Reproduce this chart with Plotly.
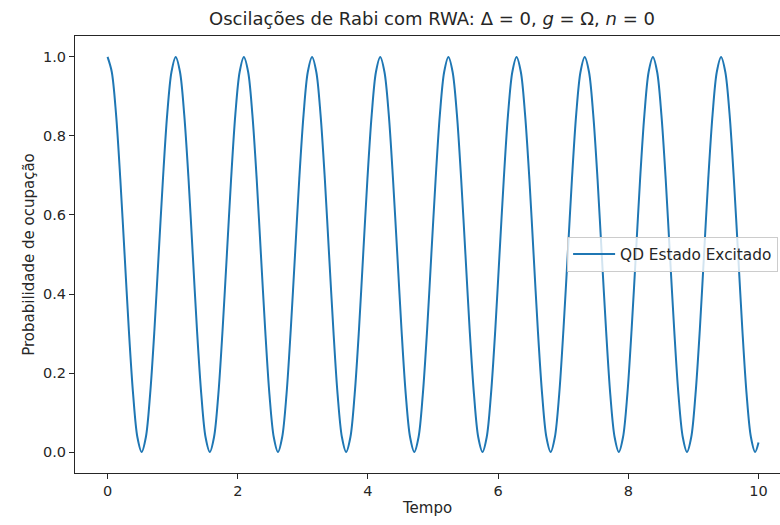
import plotly.graph_objects as go

# Excited-state occupation probability, sampled every 1/16 of an oscillation
tempo = [
    0.000, 0.065, 0.131, 0.196, 0.262, 0.327, 0.393, 0.458, 0.524, 0.589, 0.654, 0.720, 0.785, 0.851, 0.916, 0.982,
    1.047, 1.113, 1.178, 1.244, 1.309, 1.374, 1.440, 1.505, 1.571, 1.636, 1.702, 1.767, 1.833, 1.898, 1.963, 2.029,
    2.094, 2.160, 2.225, 2.291, 2.356, 2.422, 2.487, 2.553, 2.618, 2.683, 2.749, 2.814, 2.880, 2.945, 3.011, 3.076,
    3.142, 3.207, 3.272, 3.338, 3.403, 3.469, 3.534, 3.600, 3.665, 3.731, 3.796, 3.862, 3.927, 3.992, 4.058, 4.123,
    4.189, 4.254, 4.320, 4.385, 4.451, 4.516, 4.581, 4.647, 4.712, 4.778, 4.843, 4.909, 4.974, 5.040, 5.105, 5.171,
    5.236, 5.301, 5.367, 5.432, 5.498, 5.563, 5.629, 5.694, 5.760, 5.825, 5.890, 5.956, 6.021, 6.087, 6.152, 6.218,
    6.283, 6.349, 6.414, 6.480, 6.545, 6.610, 6.676, 6.741, 6.807, 6.872, 6.938, 7.003, 7.069, 7.134, 7.199, 7.265,
    7.330, 7.396, 7.461, 7.527, 7.592, 7.658, 7.723, 7.789, 7.854, 7.919, 7.985, 8.050, 8.116, 8.181, 8.247, 8.312,
    8.378, 8.443, 8.508, 8.574, 8.639, 8.705, 8.770, 8.836, 8.901, 8.967, 9.032, 9.098, 9.163, 9.228, 9.294, 9.359,
    9.425, 9.490, 9.556, 9.621, 9.687, 9.752, 9.817, 9.883, 9.948, 10.000,
]
prob_excitado = [
    1.000, 0.962, 0.854, 0.691, 0.500, 0.309, 0.146, 0.038, 0.000, 0.038, 0.146, 0.309, 0.500, 0.691, 0.854, 0.962,
    1.000, 0.962, 0.854, 0.691, 0.500, 0.309, 0.146, 0.038, 0.000, 0.038, 0.146, 0.309, 0.500, 0.691, 0.854, 0.962,
    1.000, 0.962, 0.854, 0.691, 0.500, 0.309, 0.146, 0.038, 0.000, 0.038, 0.146, 0.309, 0.500, 0.691, 0.854, 0.962,
    1.000, 0.962, 0.854, 0.691, 0.500, 0.309, 0.146, 0.038, 0.000, 0.038, 0.146, 0.309, 0.500, 0.691, 0.854, 0.962,
    1.000, 0.962, 0.854, 0.691, 0.500, 0.309, 0.146, 0.038, 0.000, 0.038, 0.146, 0.309, 0.500, 0.691, 0.854, 0.962,
    1.000, 0.962, 0.854, 0.691, 0.500, 0.309, 0.146, 0.038, 0.000, 0.038, 0.146, 0.309, 0.500, 0.691, 0.854, 0.962,
    1.000, 0.962, 0.854, 0.691, 0.500, 0.309, 0.146, 0.038, 0.000, 0.038, 0.146, 0.309, 0.500, 0.691, 0.854, 0.962,
    1.000, 0.962, 0.854, 0.691, 0.500, 0.309, 0.146, 0.038, 0.000, 0.038, 0.146, 0.309, 0.500, 0.691, 0.854, 0.962,
    1.000, 0.962, 0.854, 0.691, 0.500, 0.309, 0.146, 0.038, 0.000, 0.038, 0.146, 0.309, 0.500, 0.691, 0.854, 0.962,
    1.000, 0.962, 0.854, 0.691, 0.500, 0.309, 0.146, 0.038, 0.000, 0.024,
]
x_ticks = [0, 2, 4, 6, 8, 10]
y_ticks = [0.0, 0.2, 0.4, 0.6, 0.8, 1.0]
y_tick_labels = ["0.0", "0.2", "0.4", "0.6", "0.8", "1.0"]

FONT = "DejaVu Sans"
INK = "#262626"

fig = go.Figure()
fig.add_trace(go.Scatter(
    x=tempo, y=prob_excitado, mode="lines",
    name="QD Estado Excitado",
    line=dict(color="#1f77b4", width=2, shape="spline", smoothing=0.9),
))

fig.update_layout(
    width=780, height=525, autosize=False,
    margin=dict(l=75, r=0, t=36, b=52),
    paper_bgcolor="white", plot_bgcolor="white",
    font=dict(family=FONT, size=15, color=INK),
    title=dict(
        text="Oscilações de Rabi com RWA: Δ = 0, <i>g</i> = Ω, <i>n</i> = 0",
        x=432 / 780, xanchor="center", y=1 - 19 / 525, yanchor="middle",
        font=dict(family=FONT, size=18, color=INK),
    ),
    xaxis=dict(
        range=[-0.5, 10.33], tickvals=x_ticks, ticktext=[str(v) for v in x_ticks],
        showgrid=False, zeroline=False,
        showline=True, linecolor=INK, linewidth=1, mirror=True,
        ticks="outside", ticklen=5, tickwidth=1, tickcolor=INK,
        tickfont=dict(size=14.5),
        title=dict(text="Tempo", font=dict(size=15), standoff=4),
    ),
    yaxis=dict(
        range=[-0.053, 1.053], tickvals=y_ticks, ticktext=y_tick_labels,
        showgrid=False, zeroline=False,
        showline=True, linecolor=INK, linewidth=1, mirror=False,
        ticks="outside", ticklen=5, tickwidth=1, tickcolor=INK,
        tickfont=dict(size=14.5),
        title=dict(text="Probabilidade de ocupação", font=dict(size=15), standoff=4),
    ),
    legend=dict(
        x=0.698, y=0.501, xanchor="left", yanchor="middle",
        bgcolor="rgba(255,255,255,0.8)", bordercolor="#cccccc", borderwidth=1,
        font=dict(size=15.3), itemwidth=42,
    ),
    showlegend=True,
)

fig.write_html("out.html")
